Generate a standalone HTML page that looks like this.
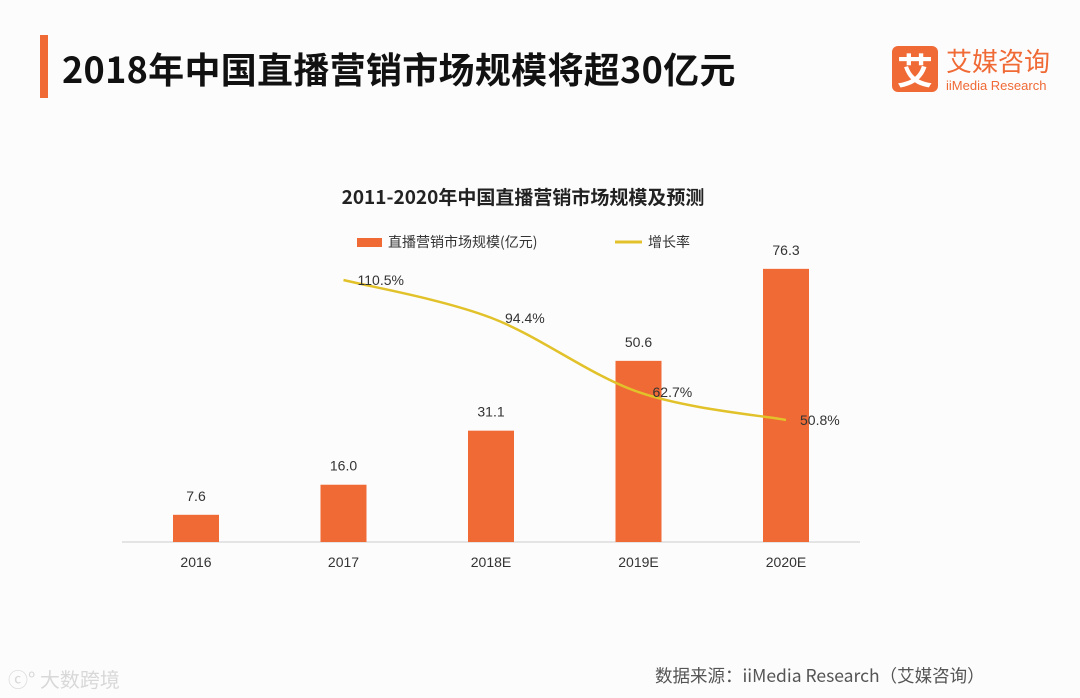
<!DOCTYPE html>
<html><head><meta charset="utf-8"><style>
body{margin:0;width:1080px;height:698px;background:#fdfcfd;overflow:hidden;font-family:"Liberation Sans","Noto Sans CJK SC",sans-serif;}
</style></head><body>
<div style="position:relative;width:1080px;height:698px;">
<div style="position:absolute;left:40px;top:35px;width:8px;height:63px;background:#ef6a35"></div>
<div style="position:absolute;left:62px;top:45px;font-size:36px;font-weight:bold;color:#111;font-family:'Noto Sans CJK SC',sans-serif;line-height:46px;letter-spacing:0.3px">2018年中国直播营销市场规模将超30亿元</div>
<div style="position:absolute;left:892px;top:46px;width:46px;height:46px;background:#ef6a35;border-radius:6px;color:#fff;font-size:36px;line-height:46px;text-align:center;font-weight:bold;font-family:'Noto Sans CJK SC',sans-serif">艾</div>
<div style="position:absolute;left:946px;top:44px;font-size:26px;color:#ef6a35;font-family:'Noto Sans CJK SC',sans-serif;line-height:34px">艾媒咨询</div>
<div style="position:absolute;left:946px;top:79px;font-size:13px;color:#ef6a35;line-height:14px">iiMedia Research</div>
<svg width="1080" height="698" style="position:absolute;left:0;top:0" id="chart">
<text x="523" y="204" text-anchor="middle" font-size="19" font-weight="bold" fill="#222" font-family="'Noto Sans CJK SC',sans-serif">2011-2020年中国直播营销市场规模及预测</text>
<rect x="357" y="238" width="25" height="9" fill="#ef6a35"/>
<text x="388" y="247" font-size="14" fill="#333" font-family="'Noto Sans CJK SC',sans-serif">直播营销市场规模(亿元)</text>
<line x1="615" y1="242" x2="642" y2="242" stroke="#e2c22a" stroke-width="3"/>
<text x="648" y="247" font-size="14" fill="#333" font-family="'Noto Sans CJK SC',sans-serif">增长率</text>
<line x1="122" y1="542" x2="860" y2="542" stroke="#ccc" stroke-width="1"/>
<g id="marks"></g>
</svg>
<div style="position:absolute;left:8px;top:664px;font-size:20px;color:#d8d8d8;font-family:'Noto Sans CJK SC',sans-serif">ⓒ° 大数跨境</div>
<div style="position:absolute;left:655px;top:663px;font-size:17.5px;color:#555;font-family:'Noto Sans CJK SC',sans-serif">数据来源：iiMedia Research（艾媒咨询）</div>
</div>
<script>
const categories=["2016","2017","2018E","2019E","2020E"];
const marketSize=[7.6,16.0,31.1,50.6,76.3];
const growthRate=[null,110.5,94.4,62.7,50.8];
const NS="http://www.w3.org/2000/svg";
const g=document.getElementById('marks');
const xPos=i=>196+i*147.5;
const yBar=v=>542-v*3.58;
const yLine=v=>280+(110.5-v)*2.345;
function mk(t,a){const e=document.createElementNS(NS,t);for(const k in a)e.setAttribute(k,a[k]);g.appendChild(e);return e;}
categories.forEach((c,i)=>{
  const r=mk('rect',{x:xPos(i)-23,y:yBar(marketSize[i]),width:46,height:542-yBar(marketSize[i]),fill:'#ef6a35'});
  
  
  const t=mk('text',{x:xPos(i),y:yBar(marketSize[i])-14,'text-anchor':'middle','font-size':14,fill:'#333'});
  t.textContent=marketSize[i].toFixed(1);
  
  
  const x=mk('text',{x:xPos(i),y:567,'text-anchor':'middle','font-size':14,fill:'#333'});
  x.textContent=c;
  
  
});
const pts=[];growthRate.forEach((v,i)=>{if(v!==null)pts.push([xPos(i),yLine(v),v,categories[i]]);});
let d='M'+pts[0][0]+','+pts[0][1];
for(let i=0;i<pts.length-1;i++){
  const p0=pts[Math.max(i-1,0)],p1=pts[i],p2=pts[i+1],p3=pts[Math.min(i+2,pts.length-1)];
  const k=0.5/3*2;
  const c1x=p1[0]+(p2[0]-p0[0])*k/2,c1y=p1[1]+(p2[1]-p0[1])*k/2;
  const c2x=p2[0]-(p3[0]-p1[0])*k/2,c2y=p2[1]-(p3[1]-p1[1])*k/2;
  d+=' C'+c1x+','+c1y+' '+c2x+','+c2y+' '+p2[0]+','+p2[1];
}
const path=mk('path',{d:d,fill:'none',stroke:'#e2c22a','stroke-width':2.5});


pts.forEach(p=>{
  const t=mk('text',{x:p[0]+14,y:p[1]+5,'font-size':14,fill:'#333'});
  t.textContent=p[2].toFixed(1)+'%';
  
  
});
</script>
</body></html>
